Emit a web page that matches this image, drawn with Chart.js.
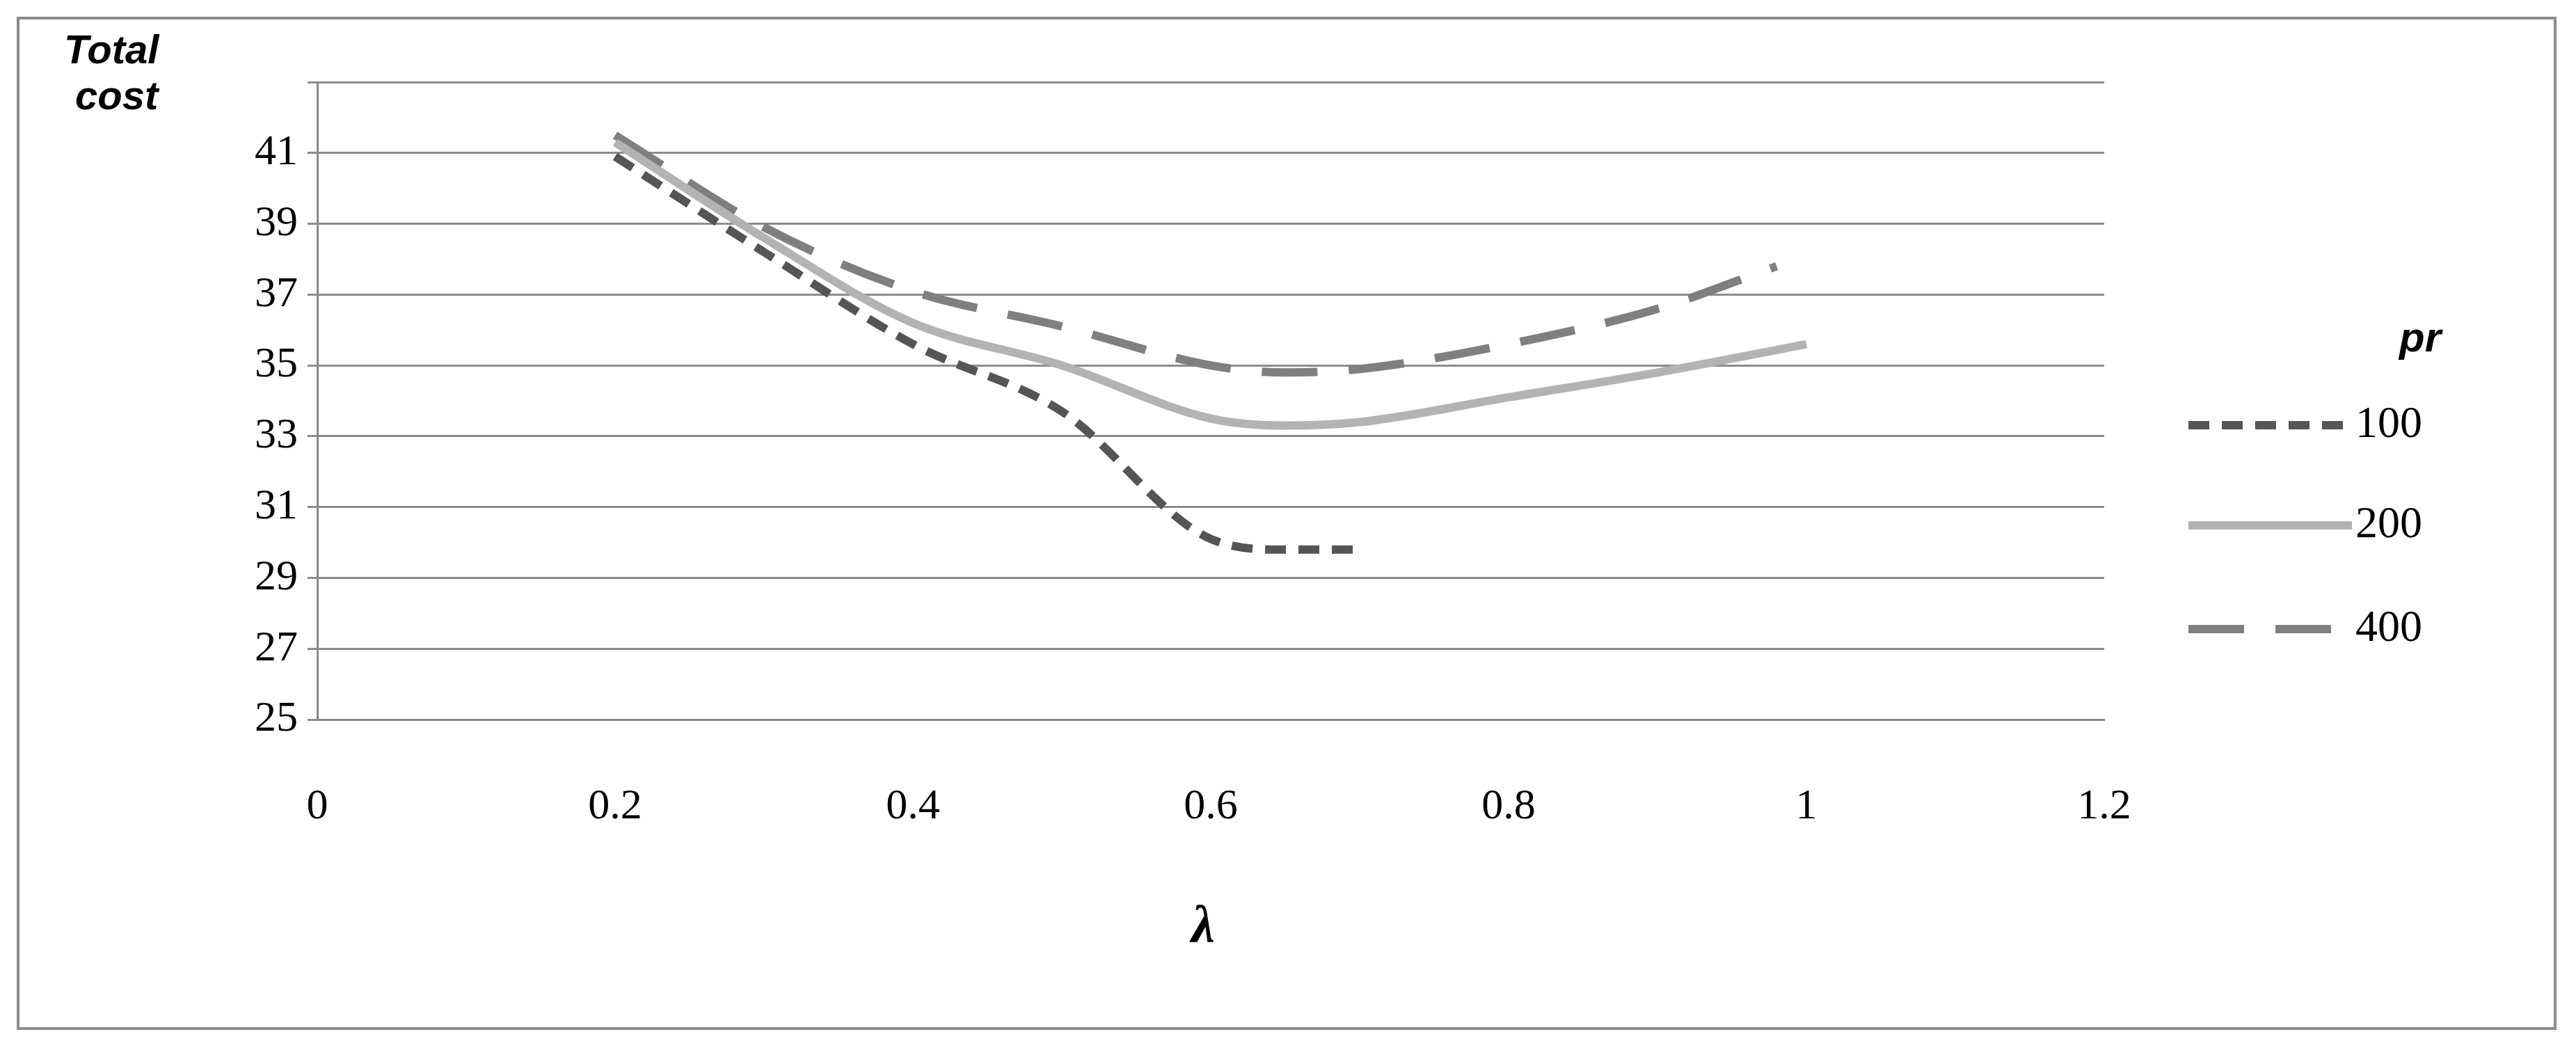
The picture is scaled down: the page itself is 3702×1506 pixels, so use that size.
<!DOCTYPE html>
<html>
<head>
<meta charset="utf-8">
<script src="https://cdn.jsdelivr.net/npm/chart.js@4"></script>
<style>
  html, body { margin: 0; padding: 0; background: #fff; }
  #wrap { position: relative; width: 3702px; height: 1506px; }
  #frame { position: absolute; left: 24px; top: 24px; width: 3650px; height: 1456px; border: 4px solid #8c8c8c; box-sizing: border-box; }
  .lbl { position: absolute; font-family: "Liberation Sans", Arial, sans-serif; font-weight: bold; font-style: italic; color: #000; }
</style>
</head>
<body>
<div id="wrap">
  <div id="frame"></div>
  <canvas id="c" width="3702" height="1506" style="position:absolute;left:0;top:0"></canvas>
  <div class="lbl" style="left:92px;top:38px;font-size:58px;line-height:66px">Total<br>&nbsp;cost</div>
  <div class="lbl" style="left:1712px;top:1285px;font-size:76px;font-family:'Liberation Serif',serif">λ</div>
  <div class="lbl" style="left:3448px;top:450px;font-size:60px">pr</div>
</div>
<script>
// valeurs
const lambdas100 = [0.2, 0.3, 0.4, 0.5, 0.6, 0.65, 0.7];
const cost100 = [40.9, 38.2, 35.6, 33.7, 30.1, 29.8, 29.8];
const lambdas200 = [0.2, 0.3, 0.4, 0.5, 0.6, 0.65, 0.7, 0.8, 0.9, 1.0];
const cost200 = [41.3, 38.6, 36.2, 35.0, 33.5, 33.3, 33.4, 34.1, 34.8, 35.6];
const lambdas400 = [0.2, 0.3, 0.4, 0.5, 0.6, 0.65, 0.7, 0.8, 0.9, 0.98];
const cost400 = [41.5, 38.9, 37.1, 36.1, 35.0, 34.8, 34.9, 35.6, 36.6, 37.8];
const seriesNames = ['100', '200', '400'];

const styles = [
  { color: '#555555', width: 12, dash: [30, 18] },
  { color: '#b3b3b3', width: 12, dash: [] },
  { color: '#7f7f7f', width: 12, dash: [80, 45] }
];

const pts = (xs, ys) => xs.map((x, i) => ({ x: x, y: ys[i] }));
const allData = [pts(lambdas100, cost100), pts(lambdas200, cost200), pts(lambdas400, cost400)];

// légende dessinée à droite
const legendPlugin = {
  id: 'sideLegend',
  afterDraw(chart) {
    const ctx = chart.ctx;
    const ys = [611, 755, 904];
    ctx.save();
    ctx.font = '64px "Liberation Serif", serif';
    ctx.textBaseline = 'middle';
    ctx.fillStyle = '#000';
    styles.forEach((s, i) => {
      ctx.strokeStyle = s.color;
      ctx.lineWidth = s.width;
      ctx.setLineDash(s.dash);
      ctx.beginPath();
      ctx.moveTo(3145, ys[i]);
      ctx.lineTo(3380, ys[i]);
      ctx.stroke();
      ctx.setLineDash([]);
      ctx.fillText(seriesNames[i], 3385, ys[i]);
    });
    ctx.restore();
  }
};

new Chart(document.getElementById('c'), {
  type: 'line',
  data: {
    datasets: allData.map((d, i) => ({
      label: seriesNames[i],
      data: d,
      borderColor: styles[i].color,
      borderWidth: styles[i].width,
      borderDash: styles[i].dash,
      pointRadius: 0,
      fill: false,
      cubicInterpolationMode: 'monotone'
    }))
  },
  options: {
    responsive: false,
    animation: false,
    layout: { padding: { top: 118, right: 678, left: 0, bottom: 0 } },
    plugins: { legend: { display: false }, tooltip: { enabled: false } },
    scales: {
      x: {
        type: 'linear', min: 0, max: 1.2,
        ticks: { stepSize: 0.2, padding: 75, color: '#000',
          font: { family: 'Liberation Serif', size: 62 },
          callback: v => Math.round(v * 10) / 10 },
        grid: { display: false, drawTicks: true, tickLength: 14, tickColor: '#888' },
        border: { color: '#888', width: 3 },
        afterFit: s => { s.height = 472; }
      },
      y: {
        min: 25, max: 43,
        ticks: { stepSize: 2, padding: 14, color: '#000',
          font: { family: 'Liberation Serif', size: 62 },
          callback: v => v === 43 ? '' : v },
        grid: { color: '#8c8c8c', lineWidth: 3, tickLength: 14 },
        border: { color: '#888', width: 3 },
        afterFit: s => { s.width = 456; }
      }
    }
  },
  plugins: [legendPlugin]
});
</script>
</body>
</html>
